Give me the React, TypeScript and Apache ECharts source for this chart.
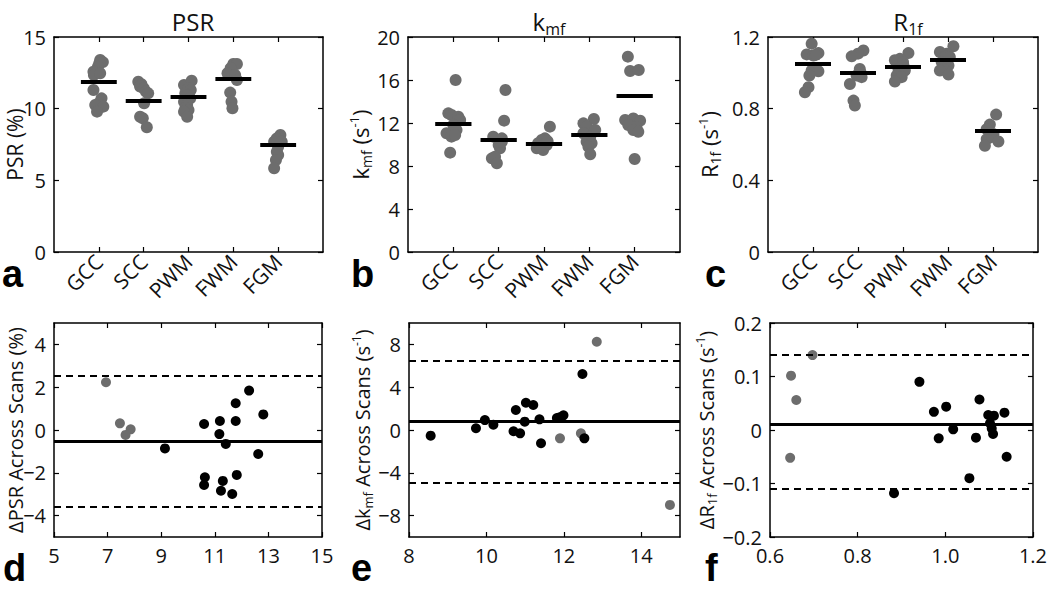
import React, { useEffect, useRef } from 'react';
import * as echarts from 'echarts';

const regions = ['GCC', 'SCC', 'PWM', 'FWM', 'FGM'];
const regionPos = [1, 2, 3, 4, 5];

// Panel a: PSR (%) — [category position + jitter, value]
const psrGCC = [[1.03, 13.4], [1.09, 13.25], [1.01, 13.17], [0.98, 12.93], [0.94, 12.58], [0.88, 12.58], [0.89, 12.35], [1.03, 12.47], [0.88, 11.3], [1.06, 10.72], [0.99, 10.37], [0.92, 10.26], [1.1, 10.14], [0.96, 9.79]];
const psrSCC = [[1.88, 11.88], [1.95, 11.7], [1.92, 11.54], [2.0, 11.42], [2.05, 11.19], [2.1, 11.07], [2.01, 10.37], [1.92, 9.44], [1.98, 9.33], [2.07, 8.7]];
const psrPWM = [[2.9, 11.65], [3.07, 11.95], [3.0, 11.42], [3.05, 11.3], [2.93, 11.07], [2.96, 10.9], [3.04, 10.72], [2.9, 10.49], [2.97, 10.26], [2.93, 10.03], [3.0, 9.91], [2.9, 9.79], [2.97, 9.44]];
const psrFWM = [[4.0, 13.12], [4.08, 13.12], [3.94, 12.82], [3.87, 12.47], [4.04, 12.35], [4.08, 12.0], [3.93, 11.12], [3.96, 10.49], [3.98, 10.03]];
const psrFGM = [[5.05, 8.16], [4.97, 7.93], [4.91, 7.7], [5.08, 7.7], [5.0, 7.35], [4.97, 7.0], [5.0, 6.77], [4.95, 6.42], [4.91, 5.84]];
const psrMeans = [11.85, 10.58, 10.8, 12.08, 7.45];

// Panel b: kmf (s^-1)
const kmfGCC = [[1.05, 16.0], [0.89, 12.9], [0.96, 12.74], [1.11, 12.59], [1.15, 12.28], [1.0, 11.81], [1.07, 11.35], [0.85, 11.04], [0.96, 10.73], [1.04, 10.88], [0.93, 9.24]];
const kmfSCC = [[2.15, 15.07], [2.12, 12.22], [1.88, 10.73], [2.07, 10.57], [2.0, 9.95], [2.03, 9.64], [1.85, 8.71], [1.92, 8.87], [1.96, 8.25], [2.07, 10.26]];
const kmfPWM = [[3.13, 11.66], [3.02, 10.57], [2.95, 10.42], [2.87, 10.11], [3.06, 9.95], [2.84, 9.64], [2.98, 9.49], [2.91, 9.8], [3.08, 10.3]];
const kmfFWM = [[4.1, 12.37], [3.87, 11.97], [3.94, 11.66], [4.13, 11.35], [3.87, 11.04], [4.02, 10.73], [3.94, 10.26], [4.05, 10.11], [3.98, 9.8], [4.02, 9.09]];
const kmfFGM = [[4.85, 18.17], [4.9, 16.84], [5.09, 16.93], [4.79, 12.28], [4.97, 12.43], [5.12, 12.22], [4.86, 11.81], [5.04, 11.6], [4.97, 11.35], [5.08, 11.19], [5.0, 8.65]];
const kmfMeans = [11.97, 10.42, 10.11, 10.95, 14.5];

// Panel c: R1f (s^-1)
const r1fGCC = [[0.97, 1.163], [0.86, 1.103], [1.01, 1.097], [1.12, 1.11], [1.06, 1.1], [0.97, 1.013], [1.12, 1.009], [0.92, 0.985], [0.9, 0.92], [0.82, 0.892]];
const r1fSCC = [[2.12, 1.125], [2.0, 1.107], [1.86, 1.092], [2.04, 1.022], [2.06, 1.0], [2.08, 0.976], [1.97, 0.985], [1.82, 0.938], [1.9, 0.845], [1.93, 0.817]];
const r1fPWM = [[3.12, 1.11], [2.93, 1.078], [2.82, 1.07], [3.0, 1.06], [3.01, 1.041], [2.9, 1.022], [3.04, 1.013], [2.86, 0.985], [2.97, 0.976], [2.82, 0.951]];
const r1fFWM = [[4.12, 1.148], [3.82, 1.116], [3.97, 1.107], [3.95, 1.09], [4.04, 1.088], [3.86, 1.06], [4.01, 1.041], [3.9, 1.022], [3.82, 1.013], [4.01, 0.991]];
const r1fFGM = [[5.07, 0.767], [4.93, 0.711], [4.86, 0.686], [5.01, 0.658], [4.93, 0.639], [4.86, 0.63], [5.12, 0.617], [4.82, 0.593]];
const r1fMeans = [1.05, 0.998, 1.036, 1.073, 0.677];

// Panel d: ΔPSR vs mean PSR
const dGray = [[6.94, 2.23], [7.46, 0.31], [7.86, 0.03], [7.67, -0.23]];
const dBlack = [[9.14, -0.86], [10.6, 0.28], [11.19, 0.42], [11.78, 0.42], [11.78, 1.25], [12.28, 1.84], [12.81, 0.73], [11.17, -0.19], [11.41, -0.65], [12.62, -1.12], [10.63, -2.21], [10.6, -2.57], [11.3, -2.38], [11.82, -2.1], [11.23, -2.84], [11.65, -2.99]];
const dLines = { mean: -0.51, upper: 2.54, lower: -3.58 };

// Panel e: Δkmf vs mean kmf
const eGray = [[11.9, -0.78], [12.44, -0.31], [12.85, 8.25], [14.74, -7.0]];
const eBlack = [[8.56, -0.53], [9.73, 0.16], [9.96, 0.93], [10.18, 0.5], [10.7, -0.12], [10.87, -0.31], [10.76, 1.87], [11.02, 2.55], [11.21, 2.34], [10.99, 0.78], [11.37, 1.0], [11.41, -1.24], [11.82, 1.12], [11.89, 1.19], [11.99, 1.37], [12.48, 5.23], [12.53, -0.78]];
const eLines = { mean: 0.8, upper: 6.45, lower: -4.9 };

// Panel f: ΔR1f vs mean R1f
const fGray = [[0.697, 0.14], [0.648, 0.1015], [0.66, 0.056], [0.646, -0.052]];
const fBlack = [[0.883, -0.118], [0.941, 0.09], [0.974, 0.034], [1.002, 0.0436], [0.985, -0.0156], [1.018, 0.0012], [1.078, 0.057], [1.07, -0.0143], [1.055, -0.09], [1.098, 0.028], [1.111, 0.0268], [1.135, 0.0324], [1.102, 0.0125], [1.106, 0.003], [1.109, -0.0075], [1.14, -0.05]];
const fLines = { mean: 0.0137, upper: 0.137, lower: -0.108 };

// Tick values
const aYTicks = [0, 5, 10, 15];
const bYTicks = [0, 4, 8, 12, 16, 20];
const cYTicks = [0, 0.4, 0.8, 1.2];
const dXTicks = [5, 7, 9, 11, 13, 15];
const dYTicks = [-4, -2, 0, 2, 4];
const eXTicks = [8, 10, 12, 14];
const eYTicks = [-8, -4, 0, 4, 8];
const fXTicks = [0.6, 0.8, 1.0, 1.2];
const fYTicks = [-0.2, -0.1, 0, 0.1, 0.2];

const FONT = 'Open Sans';
const GRAY = '#6d6d6d';
const TXT = '#111';
const minus = (s: string) => s.replace('-', '\u2212');

const makeRich = (size: number) => ({
  n: { fontSize: size, fontFamily: FONT, fontWeight: 'normal', color: TXT, lineHeight: size + 4, verticalAlign: 'middle' },
  s: { fontSize: Math.round(size * 0.64), fontFamily: FONT, fontWeight: 'normal', color: TXT, lineHeight: Math.round(size * 0.64), verticalAlign: 'bottom' },
  p: { fontSize: Math.round(size * 0.58), fontFamily: FONT, fontWeight: 'normal', color: TXT, lineHeight: Math.round(size * 0.58), verticalAlign: 'top' },
});

const titleRich = {
  n: { fontSize: 24, fontFamily: FONT, fontWeight: 'normal', color: TXT, lineHeight: 32, verticalAlign: 'middle' },
  s: { fontSize: 16, fontFamily: FONT, fontWeight: 'normal', color: TXT, lineHeight: 16, verticalAlign: 'bottom' },
};

const grids = [
  { left: 54, top: 37, width: 269, height: 215 },
  { left: 408, top: 37, width: 272, height: 215 },
  { left: 768, top: 37, width: 270, height: 215 },
  { left: 54, top: 323, width: 268, height: 214 },
  { left: 409, top: 323, width: 271, height: 214 },
  { left: 770, top: 323, width: 269, height: 214 },
];

function frame(
  gi: number,
  xMin: number, xMax: number, xTicks: number[], xFmt: (v: number) => string, xRotate: number,
  yMin: number, yMax: number, yTicks: number[], yFmt: (v: number) => string,
  yName: string, yNameGap: number, nameSize: number, moveOverlap: boolean,
) {
  const line = { show: true, onZero: false, lineStyle: { color: '#000', width: 1.5 } };
  const tick = (vals: number[]) => ({ show: true, inside: true, length: 5, customValues: vals, lineStyle: { color: '#000', width: 1.2 } });
  const xs = [
    {
      type: 'value', gridIndex: gi, min: xMin, max: xMax, position: 'bottom',
      axisLine: line, axisTick: tick(xTicks), splitLine: { show: false },
      axisLabel: { customValues: xTicks, formatter: xFmt, fontSize: xRotate ? 21 : 20, fontFamily: FONT, color: TXT, margin: xRotate ? 6 : 8, rotate: xRotate },
    },
    {
      type: 'value', gridIndex: gi, min: xMin, max: xMax, position: 'top',
      axisLine: line, axisTick: tick(xTicks), splitLine: { show: false }, axisLabel: { show: false },
    },
  ];
  const ys = [
    {
      type: 'value', gridIndex: gi, min: yMin, max: yMax, position: 'left',
      axisLine: line, axisTick: tick(yTicks), splitLine: { show: false },
      axisLabel: { customValues: yTicks, formatter: yFmt, fontSize: 20, fontFamily: FONT, color: TXT, margin: 8 },
      name: yName, nameLocation: 'middle', nameGap: yNameGap, nameRotate: 90, nameMoveOverlap: moveOverlap,
      nameTextStyle: { fontSize: nameSize, fontFamily: FONT, color: TXT, lineHeight: nameSize, rich: makeRich(nameSize) },
    },
    {
      type: 'value', gridIndex: gi, min: yMin, max: yMax, position: 'right',
      axisLine: line, axisTick: tick(yTicks), splitLine: { show: false }, axisLabel: { show: false },
    },
  ];
  return { xs, ys };
}

const catFmt = (v: number) => {
  const i = regionPos.indexOf(Math.round(v));
  return i >= 0 ? regions[i] : '';
};
const intFmt = (v: number) => minus(String(Math.round(v)));
const dec1Fmt = (v: number) => (Math.abs(v) < 1e-9 ? '0' : minus(v.toFixed(1)));

export default function App() {
  const ref = useRef<HTMLDivElement>(null);
  useEffect(() => {
    if (!ref.current) return;
    const chart = echarts.init(ref.current, undefined, { renderer: 'svg' });

    const frames = [
      frame(0, 0, 6, regionPos, catFmt, 45, 0, 15, aYTicks, intFmt, 'PSR (%)', 29, 21, false),
      frame(1, 0, 6, regionPos, catFmt, 45, 0, 20, bYTicks, intFmt, '{n|k}{s|mf}{n| (s}{p|-1}{n|)}', 34, 22, true),
      frame(2, 0, 6, regionPos, catFmt, 45, 0, 1.2, cYTicks, dec1Fmt, '{n|R}{s|1f}{n| (s}{p|-1}{n|)}', 46, 22, true),
      frame(3, 5, 15, dXTicks, intFmt, 0, -5, 5, dYTicks, intFmt, 'ΔPSR Across Scans (%)', 29, 20, false),
      frame(4, 8, 15, eXTicks, intFmt, 0, -10, 10, eYTicks, intFmt, '{n|Δk}{s|mf}{n| Across Scans (s}{p|-1}{n|)}', 35, 20, true),
      frame(5, 0.6, 1.2, fXTicks, dec1Fmt, 0, -0.2, 0.2, fYTicks, dec1Fmt, '{n|ΔR}{s|1f}{n| Across Scans (s}{p|-1}{n|)}', 48, 20, true),
    ];
    const xAxis: any[] = [];
    const yAxis: any[] = [];
    frames.forEach((f) => { xAxis.push(...f.xs); yAxis.push(...f.ys); });

    const topSeries = (gi: number, groups: number[][][], means: number[]) => ({
      type: 'scatter', xAxisIndex: gi * 2, yAxisIndex: gi * 2,
      data: groups.flat(), symbolSize: 12,
      itemStyle: { color: GRAY, opacity: 1 },
      silent: true,
      markLine: {
        silent: true, symbol: ['none', 'none'], label: { show: false },
        lineStyle: { color: '#000', width: 4, type: 'solid' },
        data: means.map((m, i) => [{ coord: [regionPos[i] - 0.4, m] }, { coord: [regionPos[i] + 0.4, m] }]),
      },
    });

    const bottomSeries = (gi: number, gray: number[][], black: number[][], lines: { mean: number; upper: number; lower: number }) => [
      {
        type: 'scatter', xAxisIndex: gi * 2, yAxisIndex: gi * 2, data: gray, symbolSize: 10,
        itemStyle: { color: GRAY, opacity: 1 }, silent: true,
        markLine: {
          silent: true, symbol: ['none', 'none'], label: { show: false },
          data: [
            { yAxis: lines.mean, lineStyle: { color: '#000', width: 3, type: 'solid' } },
            { yAxis: lines.upper, lineStyle: { color: '#000', width: 1.8, type: [7, 5] } },
            { yAxis: lines.lower, lineStyle: { color: '#000', width: 1.8, type: [7, 5] } },
          ],
        },
      },
      {
        type: 'scatter', xAxisIndex: gi * 2, yAxisIndex: gi * 2, data: black, symbolSize: 10,
        itemStyle: { color: '#000', opacity: 1 }, silent: true,
      },
    ];

    const series: any[] = [
      topSeries(0, [psrGCC, psrSCC, psrPWM, psrFWM, psrFGM], psrMeans),
      topSeries(1, [kmfGCC, kmfSCC, kmfPWM, kmfFWM, kmfFGM], kmfMeans),
      topSeries(2, [r1fGCC, r1fSCC, r1fPWM, r1fFWM, r1fFGM], r1fMeans),
      ...bottomSeries(3, dGray, dBlack, dLines),
      ...bottomSeries(4, eGray, eBlack, eLines),
      ...bottomSeries(5, fGray, fBlack, fLines),
    ];

    const letterFont = 'bold 38px "Liberation Sans", Arial, sans-serif';
    const letters = [
      { t: 'a', x: 2, y: 255 }, { t: 'b', x: 351, y: 255 }, { t: 'c', x: 705, y: 255 },
      { t: 'd', x: 3, y: 549 }, { t: 'e', x: 351, y: 549 }, { t: 'f', x: 705, y: 549 },
    ];

    chart.setOption({
      animation: false,
      backgroundColor: '#fff',
      title: [
        { text: '{n|PSR}', left: 188, top: 0, textAlign: 'center', textStyle: { fontWeight: 'normal', rich: titleRich } },
        { text: '{n|k}{s|mf}', left: 544, top: 0, textAlign: 'center', textStyle: { fontWeight: 'normal', rich: titleRich } },
        { text: '{n|R}{s|1f}', left: 903, top: 0, textAlign: 'center', textStyle: { fontWeight: 'normal', rich: titleRich } },
      ],
      grid: grids.map((g) => ({ ...g, containLabel: false })),
      xAxis,
      yAxis,
      series,
      graphic: letters.map((l) => ({
        type: 'text', left: l.x, top: l.y,
        style: { text: l.t, font: letterFont, fill: '#000' },
      })),
    });
    return () => chart.dispose();
  }, []);
  return <div ref={ref} style={{ position: 'fixed', left: 0, top: 0, width: 1050, height: 590 }} />;
}
